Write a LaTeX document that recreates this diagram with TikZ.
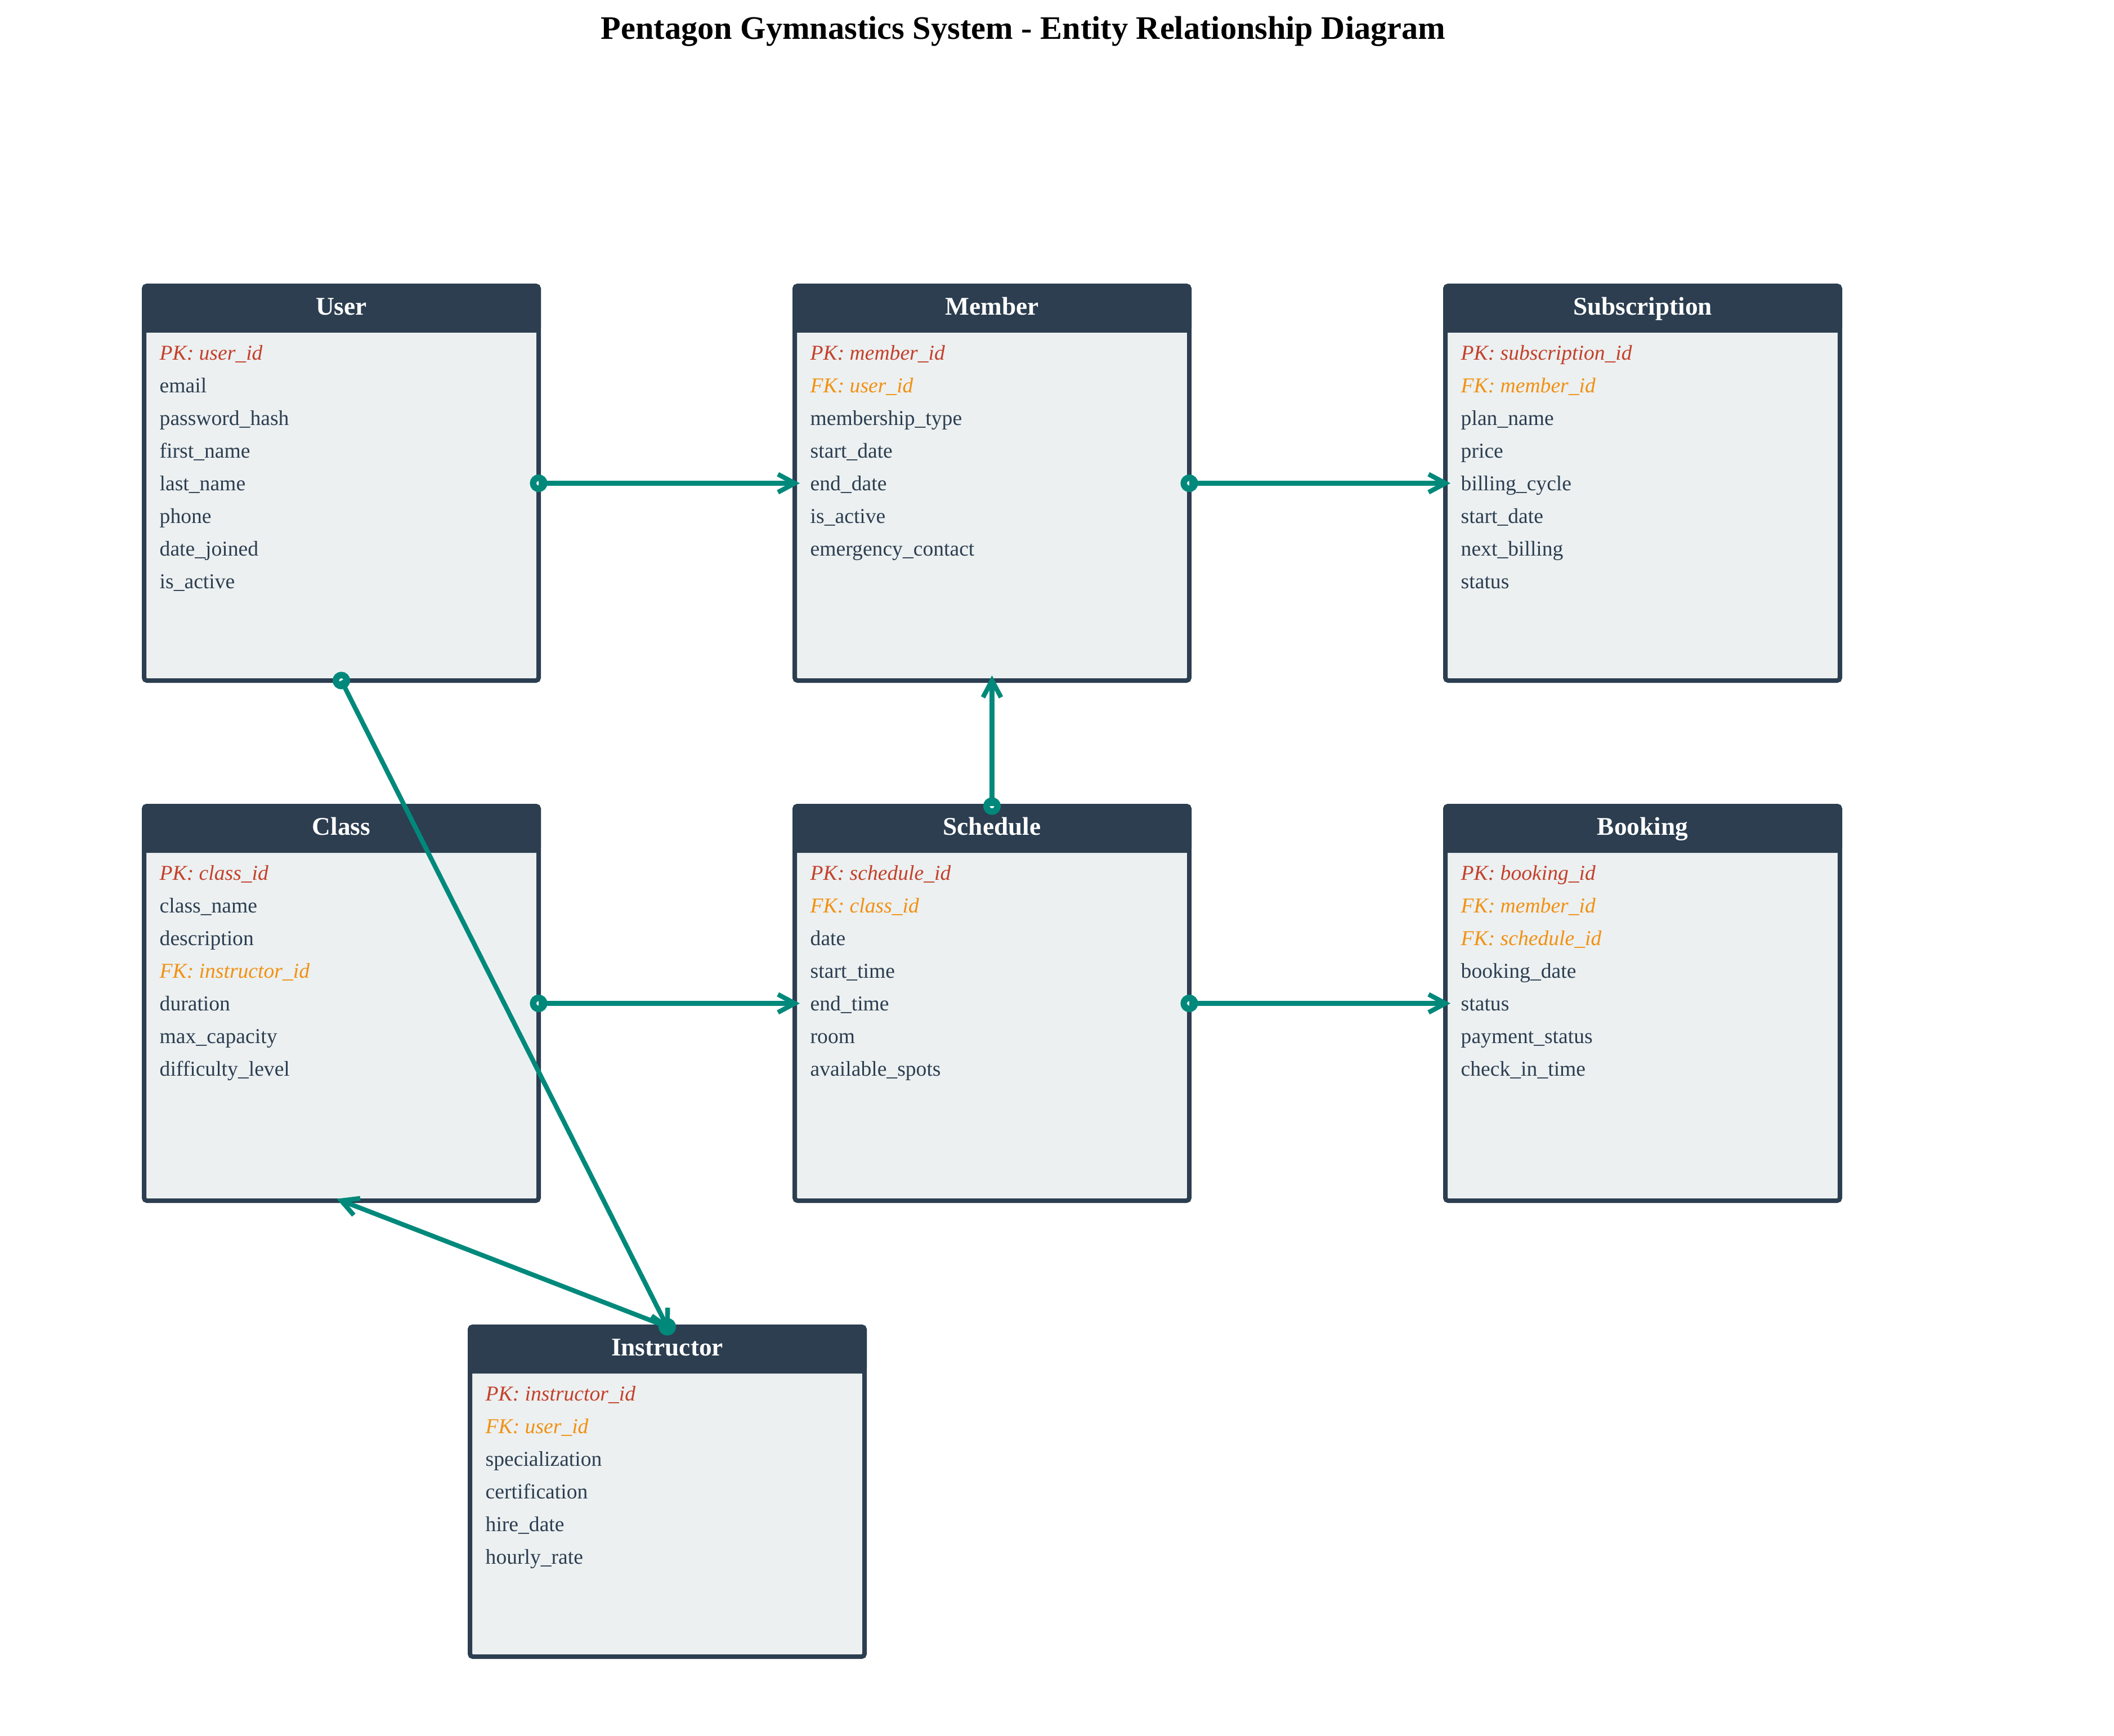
\documentclass[tikz,border=0pt]{standalone}
\usepackage{fontspec}
\setmainfont{Liberation Serif}
\usepackage{tikz}
\usetikzlibrary{positioning,arrows.meta}

\definecolor{hdr}{HTML}{2C3E50}
\definecolor{bodyfill}{HTML}{ECF0F1}
\definecolor{pkcol}{HTML}{C4402A}
\definecolor{fkcol}{HTML}{F29111}
\definecolor{relcol}{HTML}{00897B}

\newcommand\pk[1]{{\color{pkcol}\itshape PK: #1}}
\newcommand\fk[1]{{\color{fkcol}\itshape FK: #1}}

\tikzset{
  entity/.style={rectangle, draw=hdr, fill=bodyfill, line width=0.08cm, rounded corners=0.05cm,
    minimum width=7.01cm, minimum height=7.01cm, outer sep=0pt},
  header/.style={rectangle, draw=hdr, fill=hdr, line width=0.08cm, rounded corners=0.05cm,
    minimum width=7.01cm, minimum height=0.79cm, outer sep=0pt, anchor=north, text=white,
    text height=0.9em, text depth=0.22em, font=\fontsize{12.9}{15}\selectfont\bfseries},
  fields/.style={align=left, inner sep=0pt, text=hdr, font=\fontsize{10.7}{16.5}\selectfont},
  rel/.style={draw=relcol, line width=0.083cm, shorten >=-0.9mm, -{Straight Barb[length=3mm, width=3.2mm]}},
  enddot/.style={draw=relcol, fill=white, line width=0.115cm},
  title/.style={anchor=base, font=\fontsize{16.6}{20}\selectfont\bfseries},
}

\begin{document}
\begin{tikzpicture}
\useasboundingbox (0,0) rectangle (37.56,-30.84);

\node[title] (title) at (18.18,-0.70) {Pentagon Gymnastics System - Entity Relationship Diagram};

% first row
\node[entity] (User) at (6.065,-8.585) {};
\node[header] (UserH) at (User.north) {User};
\node[fields, below right=1.05cm and 0.27cm of User.north west] (UserF)
  {\pk{user\_id}\\ email\\ password\_hash\\ first\_name\\ last\_name\\ phone\\ date\_joined\\ is\_active};

\node[entity] (Member) at (17.625,-8.585) {};
\node[header] (MemberH) at (Member.north) {Member};
\node[fields, below right=1.05cm and 0.27cm of Member.north west] (MemberF)
  {\pk{member\_id}\\ \fk{user\_id}\\ membership\_type\\ start\_date\\ end\_date\\ is\_active\\ emergency\_contact};

\node[entity] (Subscription) at (29.185,-8.585) {};
\node[header] (SubscriptionH) at (Subscription.north) {Subscription};
\node[fields, below right=1.05cm and 0.27cm of Subscription.north west] (SubscriptionF)
  {\pk{subscription\_id}\\ \fk{member\_id}\\ plan\_name\\ price\\ billing\_cycle\\ start\_date\\ next\_billing\\ status};

% second row
\node[entity] (Class) at (6.065,-17.825) {};
\node[header] (ClassH) at (Class.north) {Class};
\node[fields, below right=1.05cm and 0.27cm of Class.north west] (ClassF)
  {\pk{class\_id}\\ class\_name\\ description\\ \fk{instructor\_id}\\ duration\\ max\_capacity\\ difficulty\_level};

\node[entity] (Schedule) at (17.625,-17.825) {};
\node[header] (ScheduleH) at (Schedule.north) {Schedule};
\node[fields, below right=1.05cm and 0.27cm of Schedule.north west] (ScheduleF)
  {\pk{schedule\_id}\\ \fk{class\_id}\\ date\\ start\_time\\ end\_time\\ room\\ available\_spots};

\node[entity] (Booking) at (29.185,-17.825) {};
\node[header] (BookingH) at (Booking.north) {Booking};
\node[fields, below right=1.05cm and 0.27cm of Booking.north west] (BookingF)
  {\pk{booking\_id}\\ \fk{member\_id}\\ \fk{schedule\_id}\\ booking\_date\\ status\\ payment\_status\\ check\_in\_time};

% third row
\node[entity, minimum height=5.86cm] (Instructor) at (11.855,-26.50) {};
\node[header] (InstructorH) at (Instructor.north) {Instructor};
\node[fields, below right=1.05cm and 0.27cm of Instructor.north west] (InstructorF)
  {\pk{instructor\_id}\\ \fk{user\_id}\\ specialization\\ certification\\ hire\_date\\ hourly\_rate};

% relationships
\foreach \s in {User.east, Member.east, Schedule.north, Class.east, Schedule.east, User.south, Instructor.north}
  \draw[enddot] (\s) circle (0.098cm);
\draw[rel] (User.east) -- (Member.west);
\draw[rel] (Member.east) -- (Subscription.west);
\draw[rel] (Schedule.north) -- (Member.south);
\draw[rel] (Class.east) -- (Schedule.west);
\draw[rel] (Schedule.east) -- (Booking.west);
\draw[rel] (User.south) -- (Instructor.north);
\draw[rel] (Instructor.north) -- (Class.south);
\end{tikzpicture}
\end{document}
